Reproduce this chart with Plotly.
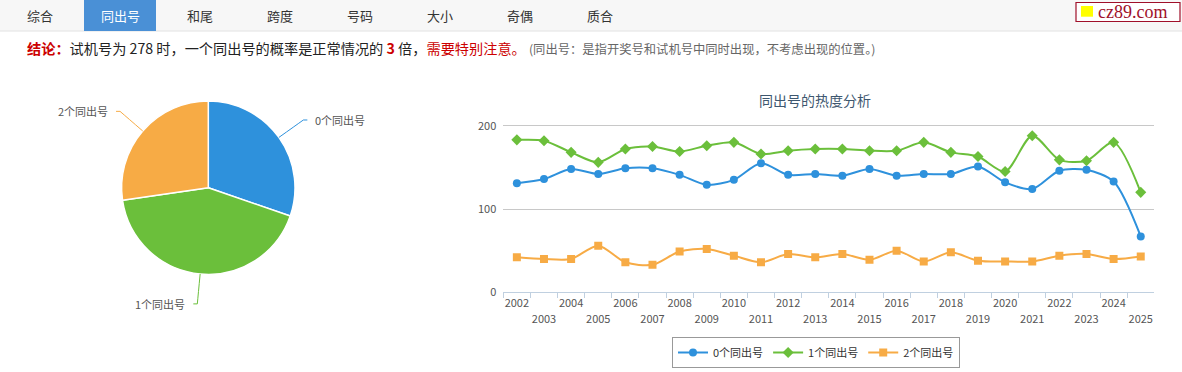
import math
import plotly.graph_objects as go

W, H = 1182, 372

# ---------------- data ----------------
years = [str(y) for y in range(2002, 2026)]
series_names = ["0个同出号", "1个同出号", "2个同出号"]
zero_same = [131, 136, 148, 142, 149, 149, 141, 129, 135, 155, 141, 142,
             140, 148, 140, 142, 142, 151, 132, 124, 146, 147, 133, 67]
one_same = [183, 182, 168, 156, 172, 175, 169, 176, 180, 166, 170, 172,
            172, 170, 170, 180, 168, 163, 145, 188, 159, 158, 180, 120]
two_same = [42, 40, 40, 56, 36, 33, 49, 52, 44, 36, 46, 42,
            46, 39, 50, 37, 48, 38, 37, 37, 44, 46, 40, 43]
pie_labels = ["0个同出号", "1个同出号", "2个同出号"]
pie_values = [30.3, 42.4, 27.3]
tabs = ["综合", "同出号", "和尾", "跨度", "号码", "大小", "奇偶", "质合"]
active_tab = "同出号"
chart_title = "同出号的热度分析"
y_ticks = [0, 100, 200]

colors = ["#2e91dc", "#6bbf3b", "#f7ab45"]
symbols = ["circle", "diamond", "square"]
sizes = [8, 8.5, 8]
FONT = "Noto Sans CJK SC, Noto Sans, sans-serif"


def px(x):
    return x / W


def py(y):
    return 1 - y / H


fig = go.Figure()

# ---------------- pie ----------------
cx, cy, R = 208.3, 187.7, 86.7
fig.add_trace(go.Pie(
    labels=pie_labels, values=pie_values, sort=False, direction="clockwise",
    rotation=0, textinfo="none", hoverinfo="label+percent",
    marker=dict(colors=colors, line=dict(color="white", width=1.5)),
    domain=dict(x=[px(cx - R), px(cx + R)], y=[py(cy + R), py(cy - R)]),
    showlegend=False,
))

# ---------------- lines ----------------
for name, vals, col, sym, sz in zip(series_names, [zero_same, one_same, two_same], colors, symbols, sizes):
    fig.add_trace(go.Scatter(
        x=years, y=vals, name=name, mode="lines+markers",
        line=dict(color=col, width=2, shape="spline", smoothing=0.8),
        marker=dict(symbol=sym, size=sz, color=col),
    ))

# invisible carrier trace so the second (odd-year label) axis is drawn
fig.add_trace(go.Scatter(
    x=list(range(len(years))), y=zero_same, xaxis="x2", yaxis="y", mode="lines",
    line=dict(width=0, color="rgba(0,0,0,0)"), showlegend=False, hoverinfo="skip",
))

shapes = []
annotations = []

# tab bar
shapes.append(dict(type="rect", xref="paper", yref="paper", x0=0, x1=1, y0=py(31), y1=py(0),
                   fillcolor="#f7f7f7", line=dict(width=0), layer="below"))
shapes.append(dict(type="line", xref="paper", yref="paper", x0=0, x1=1, y0=py(31), y1=py(31),
                   line=dict(color="#e2e2e2", width=1)))
for i, t in enumerate(tabs):
    xc = 40 + 80 * i
    if t == active_tab:
        shapes.append(dict(type="rect", xref="paper", yref="paper", x0=px(xc - 36), x1=px(xc + 36),
                           y0=py(31), y1=py(0), fillcolor="#4a90d6", line=dict(width=0)))
    annotations.append(dict(text=t, x=px(xc), y=py(15.5), xref="paper", yref="paper", showarrow=False,
                            xanchor="center", yanchor="middle",
                            font=dict(size=13, color="white" if t == active_tab else "#333333", family=FONT)))

# logo
shapes.append(dict(type="rect", xref="paper", yref="paper", x0=px(1076), x1=px(1180), y0=py(21.5), y1=py(2.5),
                   fillcolor="white", line=dict(color="#a0102a", width=1.2)))
shapes.append(dict(type="rect", xref="paper", yref="paper", x0=px(1081), x1=px(1093), y0=py(16.7), y1=py(6),
                   fillcolor="#ffff00", line=dict(width=0)))
annotations.append(dict(text="cz89.com", x=px(1096), y=py(12), xref="paper", yref="paper", showarrow=False,
                        xanchor="left", yanchor="middle",
                        font=dict(size=18, color="#a0102a", family="Liberation Serif, DejaVu Serif, serif")))

# conclusion line
RED = "#cc0000"
concl = (f'<b><span style="color:{RED}">结论：</span></b>试机号为 278 时，一个同出号的概率是正常情况的 '
         f'<b><span style="color:{RED}">3</span></b> 倍，<span style="color:{RED}">需要特别注意。</span>'
         f' <span style="color:#666666;font-size:12.3px">(同出号：是指开奖号和试机号中同时出现，不考虑出现的位置。)</span>')
annotations.append(dict(text=concl, x=px(25), y=py(48), xref="paper", yref="paper", showarrow=False,
                        xanchor="left", yanchor="middle", font=dict(size=14.2, color="#222222", family=FONT)))

# chart title
annotations.append(dict(text=chart_title, x=px(815), y=py(100), xref="paper", yref="paper", showarrow=False,
                        xanchor="center", yanchor="middle", font=dict(size=14, color="#3e576f", family=FONT)))

# pie labels with connectors
total = sum(pie_values)
cum = 0
for lab, v, col in zip(pie_labels, pie_values, colors):
    mid = (cum + v / 2) / total * 2 * math.pi
    cum += v
    s, c = math.sin(mid), math.cos(mid)
    ex, ey = cx + R * s, cy - R * c
    kx, ky = cx + (R + 20) * s, cy - (R + 20) * c
    side = 1 if s >= 0 else -1
    lx, ly = cx + (R + 30) * s, cy - (R + 30) * c
    ex2 = lx + side * 4
    path = (f"M {px(ex)} {py(ey)} Q {px(kx)} {py(ky)} {px(lx)} {py(ly)} L {px(ex2)} {py(ly)}")
    shapes.append(dict(type="path", xref="paper", yref="paper", path=path, line=dict(color=col, width=1)))
    annotations.append(dict(text=lab, x=px(ex2 + side * 6), y=py(ly), xref="paper", yref="paper",
                            showarrow=False, xanchor="left" if side > 0 else "right", yanchor="middle",
                            font=dict(size=11, color="#555555", family=FONT)))

# staggered year labels: even years on the main axis, odd years one row lower
even_text = [y if i % 2 == 0 else "" for i, y in enumerate(years)]
odd_idx = [i for i in range(len(years)) if i % 2 == 1]
odd_text = [years[i] for i in odd_idx]

x_domain = [px(503.3), px(1154.3)]
tick_font = dict(size=11, color="#555555", family=FONT)

# y scale: 0 at 292.3px, 200 at 125.7px; a little headroom so the 200 grid line is drawn
y_max = 205
y_top_px = 292.3 - (292.3 - 125.7) * y_max / 200

fig.update_layout(
    width=W, height=H, margin=dict(l=0, r=0, t=0, b=0, autoexpand=False),
    paper_bgcolor="white", plot_bgcolor="white",
    font=dict(family=FONT, color="#666666", size=11),
    shapes=shapes, annotations=annotations,
    xaxis=dict(domain=x_domain, type="category", range=[-0.5, len(years) - 0.5],
               tickvals=years, ticktext=even_text, tickson="boundaries",
               ticks="outside", ticklen=5, tickcolor="#c0d0e0", showgrid=False,
               showline=True, linecolor="#c0d0e0", linewidth=1, zeroline=False,
               tickfont=tick_font, tickangle=0, anchor="y"),
    xaxis2=dict(domain=x_domain, type="linear", range=[-0.5, len(years) - 0.5], overlaying="x",
                anchor="y", side="bottom", tickvals=odd_idx, ticktext=odd_text,
                ticks="outside", ticklen=5, tickcolor="rgba(0,0,0,0)", showgrid=False,
                showline=False, zeroline=False, tickfont=tick_font, tickangle=0,
                ticklabelstandoff=11),
    yaxis=dict(domain=[py(292.3), py(y_top_px)], range=[0, y_max], tickvals=y_ticks,
               showgrid=True, gridcolor="#c8c8c8", gridwidth=1, zeroline=False, showline=False,
               tickfont=tick_font, ticklabelstandoff=6, anchor="x"),
    legend=dict(orientation="h", x=px(816), xanchor="center", y=py(337), yanchor="top",
                bordercolor="#999999", borderwidth=1, bgcolor="white",
                font=dict(size=11, color="#333333", family=FONT), itemwidth=30, tracegroupgap=0),
    hovermode="closest",
)

fig.write_html("out.html", config={"displayModeBar": False}, post_script=(
    "var gd=document.getElementById('{plot_id}');"
    "gd.style.position='fixed';gd.style.top='0px';gd.style.left='0px';"
    "document.documentElement.style.margin='0';document.body.style.margin='0';"
    "document.body.style.padding='0';document.documentElement.style.overflow='hidden';"
    "document.body.style.overflow='hidden';"
))
